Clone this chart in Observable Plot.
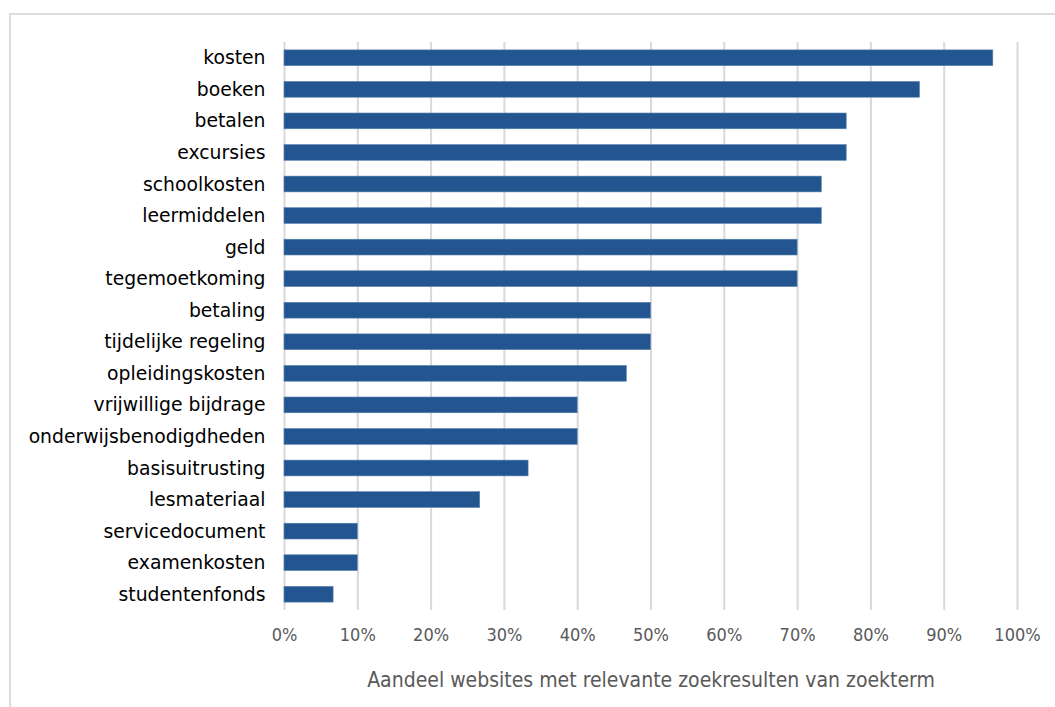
<!DOCTYPE html>
<html>
<head>
<meta charset="utf-8">
<script src="https://cdn.jsdelivr.net/npm/d3@7"></script>
<script src="https://cdn.jsdelivr.net/npm/@observablehq/plot@0.6"></script>
<style>
  html, body { margin: 0; padding: 0; background: #fff; }
  #wrap { position: relative; width: 1055px; height: 707px; overflow: hidden; }
  #border { position: absolute; left: 9px; top: 13px; width: 1100px; height: 760px; border: 2px solid #dcdcdc; box-sizing: border-box; }
  #chart { position: absolute; left: 0; top: 0; }
</style>
</head>
<body>
<div id="wrap"><div id="border"></div><div id="chart"></div></div>
<script>
const categories = ["kosten","boeken","betalen","excursies","schoolkosten","leermiddelen","geld","tegemoetkoming","betaling","tijdelijke regeling","opleidingskosten","vrijwillige bijdrage","onderwijsbenodigdheden","basisuitrusting","lesmateriaal","servicedocument","examenkosten","studentenfonds"];
const values = [0.967,0.867,0.767,0.767,0.733,0.733,0.70,0.70,0.50,0.50,0.467,0.40,0.40,0.333,0.267,0.10,0.10,0.067];
const xTicks = [0,0.1,0.2,0.3,0.4,0.5,0.6,0.7,0.8,0.9,1.0];
const xTitle = "Aandeel websites met relevante zoekresulten van zoekterm";

const data = categories.map((c, i) => ({term: c, value: values[i]}));

const chart = Plot.plot({
  width: 1055,
  height: 707,
  marginLeft: 284,
  marginRight: 38,
  marginTop: 42,
  marginBottom: 97,
  style: {fontFamily: "'DejaVu Sans Condensed', 'DejaVu Sans', sans-serif", background: "transparent"},
  x: {domain: [0, 1]},
  y: {domain: categories, paddingInner: 0.5, paddingOuter: 0.25, round: false},
  marks: [
    Plot.ruleX(xTicks, {stroke: "#d9d9d9", strokeWidth: 2}),
    Plot.barX(data, {x: "value", y: "term", fill: "#235690", stroke: "#5a82b0", strokeWidth: 0.6}),
    Plot.axisX(xTicks, {tickSize: 0, tickPadding: 18, tickFormat: d3.format(".0%"), fontSize: 18, fill: "#595959", label: null}),
    Plot.axisY({tickSize: 0, tickPadding: 19, fontSize: 18.8, fill: "#000", label: null, fontFamily: "'DejaVu Sans', sans-serif"}),
    Plot.text([xTitle], {frameAnchor: "bottom", dy: 70, fontSize: 21, fill: "#595959", lineAnchor: "middle"})
  ]
});
document.getElementById("chart").appendChild(chart);
</script>
</body>
</html>
